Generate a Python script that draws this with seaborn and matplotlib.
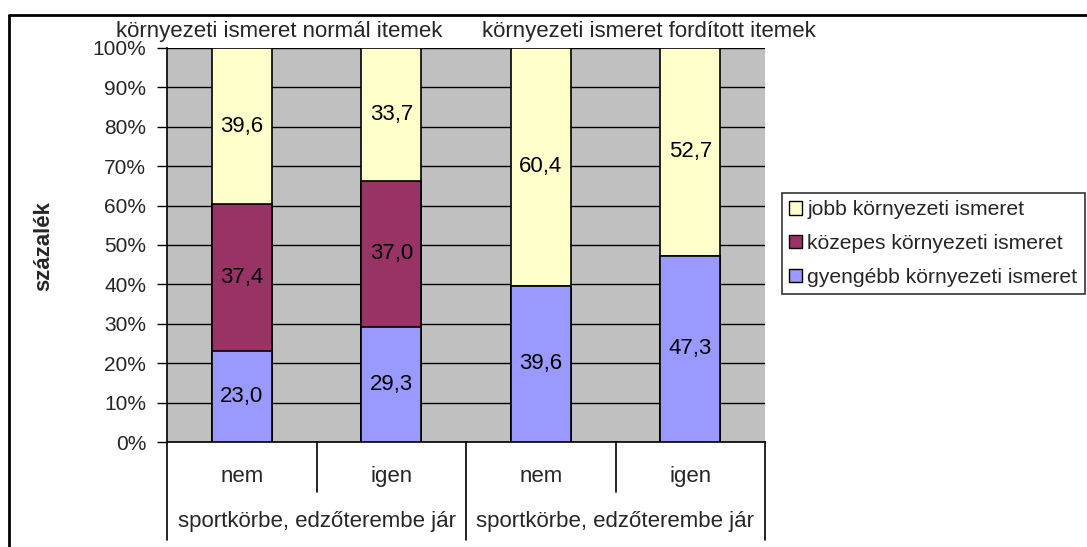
import matplotlib
matplotlib.use("Agg")
import matplotlib.pyplot as plt
import matplotlib.transforms as mtransforms
from matplotlib.patches import Patch
from matplotlib.lines import Line2D
import seaborn as sns
import pandas as pd
import numpy as np

# data (percent)
bar_keys = ["normál nem", "normál igen", "fordított nem", "fordított igen"]
bar_labels = ["nem", "igen", "nem", "igen"]
group_label = "sportkörbe, edzőterembe jár"
group_titles = ["környezeti ismeret normál itemek", "környezeti ismeret fordított itemek"]
gyengebb = [23.0, 29.3, 39.6, 47.3]
kozepes = [37.4, 37.0, 0.0, 0.0]
jobb = [39.6, 33.7, 60.4, 52.7]
series_names = ["jobb környezeti ismeret", "közepes környezeti ismeret", "gyengébb környezeti ismeret"]
colors = {"jobb": "#FFFFCC", "kozepes": "#993366", "gyengebb": "#9999FF"}

W, H = 1087, 547
FS = 16
FS_TICK = 15
FS_LEG = 15.2

sns.set_theme(style="white")
plt.rcParams["font.family"] = ["Liberation Sans", "DejaVu Sans"]

fig = plt.figure(figsize=(W / 100, H / 100), dpi=100)
fig.patch.set_facecolor("white")


def fx(p):
    return p / W


def fy(p):
    return 1 - p / H


ax = fig.add_axes([fx(167), fy(442), fx(765) - fx(167), fy(48) - fy(442)])
ax.set_facecolor("#C0C0C0")

df = pd.DataFrame({"kat": bar_keys, "gyengebb": gyengebb, "kozepes": kozepes, "jobb": jobb})
df["c1"] = df["gyengebb"]
df["c2"] = df["gyengebb"] + df["kozepes"]
df["c3"] = df["c2"] + df["jobb"]

# stacked bars: draw cumulative totals from top layer down
for col, key in [("c3", "jobb"), ("c2", "kozepes"), ("c1", "gyengebb")]:
    sns.barplot(data=df, x="kat", y=col, order=bar_keys, color=colors[key],
                saturation=1, edgecolor="black", linewidth=1.2, width=0.4,
                errorbar=None, ax=ax, zorder=3)

# value labels
def fmt(v):
    return f"{v:.1f}".replace(".", ",")

for i in range(len(bar_keys)):
    b0 = 0.0
    for v in [gyengebb[i], kozepes[i], jobb[i]]:
        if v > 0:
            ax.text(i, b0 + v / 2, fmt(v), ha="center", va="center",
                    fontsize=FS, color="black", zorder=5)
        b0 += v

ax.set_xlim(-0.5, 3.5)
ax.set_ylim(0, 100)
ax.set_yticks(np.arange(0, 101, 10))
ax.set_yticklabels([f"{t}%" for t in range(0, 101, 10)], fontsize=FS_TICK)
ax.set_xticks([])
ax.set_xlabel("")
ax.set_ylabel("")
ax.set_axisbelow(True)
ax.yaxis.grid(True, color="black", linewidth=1)
ax.tick_params(axis="y", direction="out", length=7, width=1, color="black",
               pad=8, left=True, labelsize=FS_TICK)
for s in ["top", "right"]:
    ax.spines[s].set_visible(False)
for s in ["left", "bottom"]:
    ax.spines[s].set_color("black")
    ax.spines[s].set_linewidth(1.2)

# category axis below the plot
trans = mtransforms.blended_transform_factory(ax.transData, ax.transAxes)
for xpos, low in [(-0.5, -0.249), (0.5, -0.127), (1.5, -0.249), (2.5, -0.127), (3.5, -0.249)]:
    ax.plot([xpos, xpos], [0, low], color="black", lw=1.2, transform=trans, clip_on=False)
for i, lab in enumerate(bar_labels):
    ax.text(i, -0.087, lab, ha="center", va="center", fontsize=FS, transform=trans)
for g in range(2):
    ax.text(0.5 + 2 * g, -0.203, group_label, ha="center", va="center",
            fontsize=FS, transform=trans)

# titles above the two groups
fig.text(fx(279), fy(32), group_titles[0], ha="center", va="center", fontsize=FS)
fig.text(fx(649), fy(32), group_titles[1], ha="center", va="center", fontsize=FS)

# y axis title
fig.text(fx(44), fy(246), "százalék", rotation=90, ha="center", va="center",
         fontsize=FS, fontweight="bold")

# legend
handles = [Patch(facecolor=colors[k], edgecolor="black", linewidth=1)
           for k in ["jobb", "kozepes", "gyengebb"]]
leg = fig.legend(handles, series_names, loc="upper left",
                 bbox_to_anchor=(fx(782), fy(193)), bbox_transform=fig.transFigure,
                 fontsize=FS_LEG, frameon=True, fancybox=False, shadow=False,
                 handlelength=0.6, handleheight=0.6, handletextpad=0.25,
                 labelspacing=0.7, borderpad=0.35, borderaxespad=0)
leg.get_frame().set_edgecolor("black")
leg.get_frame().set_linewidth(1.2)

# outer chart border (runs off the right and bottom edge)
fig.add_artist(Line2D([fx(9), fx(9)], [0, fy(15)], color="black", lw=2, transform=fig.transFigure))
fig.add_artist(Line2D([fx(9), 1], [fy(15), fy(15)], color="black", lw=2, transform=fig.transFigure))

fig.savefig("out.png", dpi=100)
